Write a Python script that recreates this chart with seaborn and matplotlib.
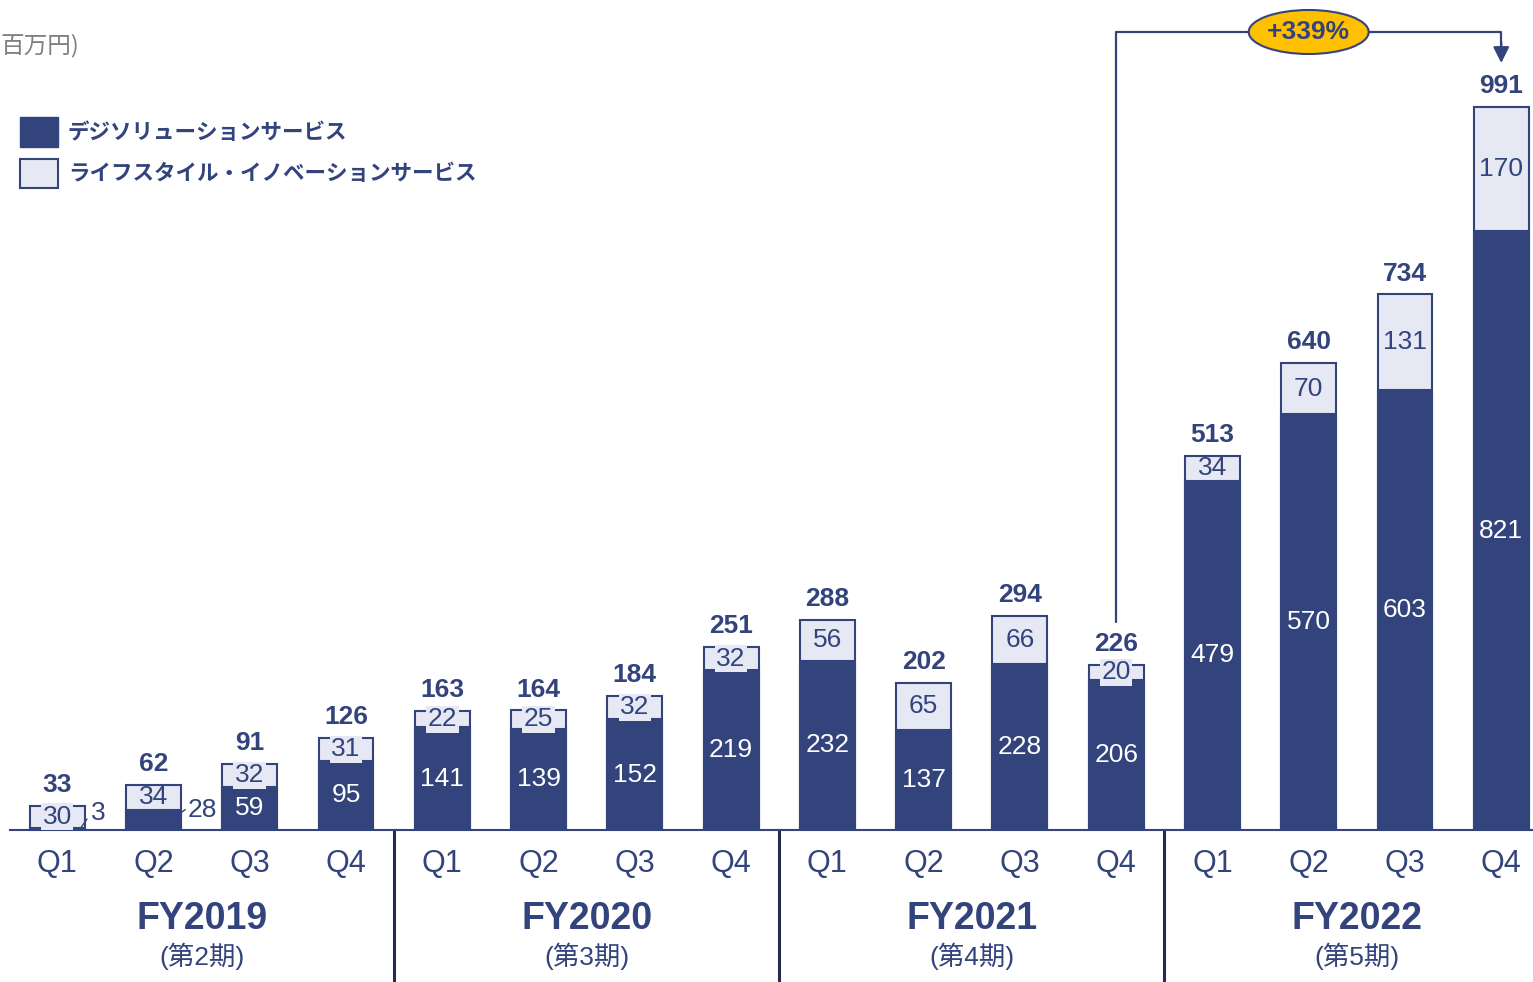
import numpy as np
import pandas as pd
import matplotlib
matplotlib.use('Agg')
import matplotlib.pyplot as plt
from matplotlib.patches import Ellipse, Patch
import seaborn as sns

# ---- data ----
fiscal_years = ['FY2019', 'FY2020', 'FY2021', 'FY2022']
fiscal_terms = ['(第2期)', '(第3期)', '(第4期)', '(第5期)']
quarters = ['Q1', 'Q2', 'Q3', 'Q4']
digi_solution = [3, 28, 59, 95, 141, 139, 152, 219, 232, 137, 228, 206, 479, 570, 603, 821]
lifestyle_innov = [30, 34, 32, 31, 22, 25, 32, 32, 56, 65, 66, 20, 34, 70, 131, 170]
series_names = ['デジソリューションサービス', 'ライフスタイル・イノベーションサービス']
growth_label = '+339%'
unit_label = '百万円)'

NAVY = '#33437C'
LIGHT = '#E6E8F4'
SEP = '#232B4E'
GOLD = '#FFC000'

sns.set_style('white')
plt.rcParams['font.family'] = ['Liberation Sans', 'Noto Sans CJK JP', 'DejaVu Sans']

periods = [f'{fy} {q}' for fy in fiscal_years for q in quarters]
df = pd.DataFrame({'period': periods, 'digi': digi_solution, 'life': lifestyle_innov})
df['total'] = df['digi'] + df['life']

W, H = 1533, 982
fig = plt.figure(figsize=(W / 100, H / 100), dpi=100)
ax = fig.add_axes([10 / W, (H - 830) / H, (W - 10) / W, 830 / H])

# stacked bars: totals in light colour, dark series drawn over it
sns.barplot(data=df, x='period', y='total', order=periods, color=LIGHT, saturation=1,
            edgecolor=NAVY, linewidth=1.5, width=0.57, ax=ax)
sns.barplot(data=df, x='period', y='digi', order=periods, color=NAVY, saturation=1,
            edgecolor=NAVY, linewidth=1.5, width=0.57, ax=ax)

px = 723 / 991  # pixels per unit
ax.set_xlim(-0.49, 15.33)
ax.set_ylim(0, 830 / px)
for s in ['left', 'right', 'top']:
    ax.spines[s].set_visible(False)
ax.spines['bottom'].set_color(NAVY)
ax.spines['bottom'].set_linewidth(1.5)
ax.set_xticks([])
ax.set_yticks([])
ax.set_xlabel('')
ax.set_ylabel('')

FS = 19
xt = ax.get_xaxis_transform()
for i in range(len(periods)):
    d = df['digi'][i]
    l = df['life'][i]
    t = df['total'][i]
    # quarter labels
    ax.text(i, -34 / 830, quarters[i % 4], transform=xt, ha='center', va='center',
            fontsize=22, color=NAVY)
    # totals
    ax.annotate(str(t), (i, t), xytext=(0, 15), textcoords='offset points',
                ha='center', va='center', fontsize=FS, fontweight='bold', color=NAVY)
    # light segment label (small segments get a patch over the outline)
    if l < 33:
        ax.text(i, d + l / 2, str(l), ha='center', va='center', fontsize=FS, color=NAVY,
                bbox=dict(boxstyle='square,pad=0.06', facecolor=LIGHT, edgecolor='none'))
    else:
        ax.text(i, d + l / 2, str(l), ha='center', va='center', fontsize=FS, color=NAVY)
    # dark segment label
    if i == 0:
        ax.plot([0.24, 0.31], [2, 15], color=NAVY, lw=1)
        ax.text(0.43, 23, str(d), ha='center', va='center', fontsize=FS, color=NAVY)
    elif i == 1:
        ax.plot([1.29, 1.33], [24, 28], color=NAVY, lw=1)
        ax.text(1.506, 27, str(d), ha='center', va='center', fontsize=FS, color=NAVY)
    else:
        ax.text(i, d / 2, str(d), ha='center', va='center', fontsize=FS, color='white')

# fiscal year labels and separators
for k, fy in enumerate(fiscal_years):
    xc = 4 * k + 1.5
    ax.text(xc, -89 / 830, fy, transform=xt, ha='center', va='center',
            fontsize=27, fontweight='bold', color=NAVY)
    ax.text(xc, -126 / 830, fiscal_terms[k], transform=xt, ha='center', va='center',
            fontsize=19, color=NAVY)
    if k > 0:
        ax.plot([4 * k - 0.5, 4 * k - 0.5], [0, -152 / 830], transform=xt,
                color=SEP, lw=2.2, clip_on=False)

# growth annotation
y_top = (830 - 32) / px
ax.plot([11, 11, 15, 15], [(830 - 622) / px, y_top, y_top, (830 - 46) / px],
        color=NAVY, lw=1.6, clip_on=False)
ax.annotate('', xy=(15, (830 - 63) / px), xytext=(15, (830 - 42) / px),
            arrowprops=dict(arrowstyle='-|>', color=NAVY, lw=1.6, mutation_scale=24,
                            shrinkA=0, shrinkB=0))
ax.add_patch(Ellipse((13, y_top), 120 / 96.3, 44 / px, facecolor=GOLD,
                     edgecolor=NAVY, lw=1.5, clip_on=False, zorder=5))
ax.text(13, y_top, growth_label, ha='center', va='center', fontsize=FS,
        fontweight='bold', color=NAVY, zorder=6)

# unit + legend
fig.text(0, 1 - 46 / H, unit_label, ha='left', va='center', fontsize=17,
         color='#7F7F7F', family=['Noto Sans CJK JP'])
handles = [Patch(facecolor=NAVY, edgecolor=NAVY),
           Patch(facecolor=LIGHT, edgecolor=NAVY, linewidth=1.5)]
fig.legend(handles, series_names, loc='upper left', bbox_to_anchor=(20 / W, 1 - 117 / H),
           frameon=False, prop=dict(family=['Noto Sans CJK JP'], weight='bold', size=15.5),
           labelcolor=NAVY, handlelength=1.77, handleheight=1.75, handletextpad=0.45,
           labelspacing=0.55, borderpad=0, borderaxespad=0)

fig.savefig('out.png', dpi=100)
